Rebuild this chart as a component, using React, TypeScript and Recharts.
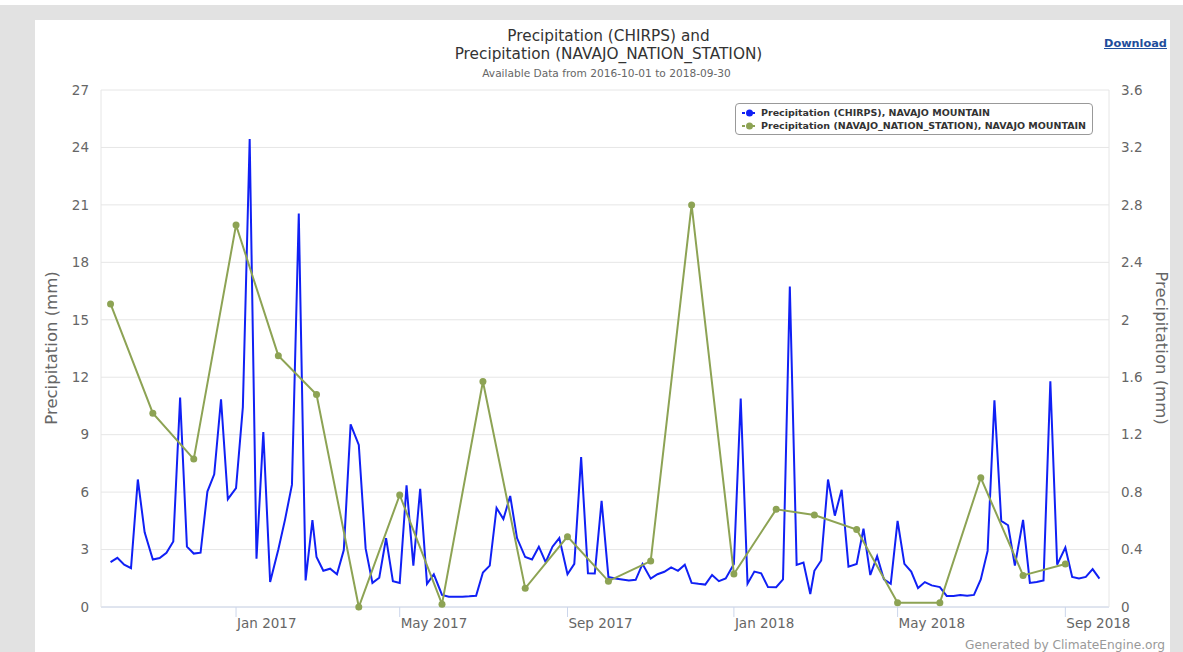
import React from 'react';
import { LineChart, Line, XAxis, YAxis, CartesianGrid } from 'recharts';

const FONT = "'DejaVu Sans', 'Lucida Grande', sans-serif";

// month starts, Oct 2016 .. Sep 2018
const months = [
  '2016-10', '2016-11', '2016-12', '2017-01', '2017-02', '2017-03',
  '2017-04', '2017-05', '2017-06', '2017-07', '2017-08', '2017-09',
  '2017-10', '2017-11', '2017-12', '2018-01', '2018-02', '2018-03',
  '2018-04', '2018-05', '2018-06', '2018-07', '2018-08', '2018-09',
];
const pentadDays = ['01', '06', '11', '16', '21', '26'];

// CHIRPS pentad precipitation (mm), six per month
const chirps = [
  2.34, 2.57, 2.21, 2.03, 6.66, 3.9,
  2.48, 2.56, 2.83, 3.42, 10.94, 3.15,
  2.79, 2.84, 6.03, 6.93, 10.85, 5.63,
  6.21, 10.44, 24.44, 2.52, 9.14, 1.31,
  3.0, 4.59, 6.39, 20.55, 1.39, 4.54,
  2.61, 1.89, 2.0, 1.71, 2.97, 9.54,
  8.46, 3.06, 1.26, 1.53, 3.6, 1.35,
  1.26, 6.35, 2.16, 6.17, 1.21, 1.71,
  0.63, 0.54, 0.54, 0.54, 0.56, 0.59,
  1.8, 2.16, 5.17, 4.59, 5.8, 3.6,
  2.61, 2.48, 3.15, 2.34, 3.15, 3.6,
  1.71, 2.25, 7.83, 1.76, 1.75, 5.54,
  1.57, 1.49, 1.44, 1.39, 1.42, 2.25,
  1.48, 1.71, 1.84, 2.07, 1.89, 2.21,
  1.26, 1.21, 1.17, 1.67, 1.35, 1.49,
  2.25, 10.89, 1.22, 1.85, 1.76, 1.04,
  1.03, 1.44, 16.74, 2.2, 2.32, 0.68,
  1.89, 2.43, 6.66, 4.77, 6.12, 2.11,
  2.25, 4.09, 1.67, 2.65, 1.44, 1.21,
  4.5, 2.25, 1.85, 0.99, 1.3, 1.13,
  1.04, 0.58, 0.58, 0.63, 0.59, 0.63,
  1.44, 2.93, 10.8, 4.5, 4.27, 2.16,
  4.55, 1.26, 1.31, 1.39, 11.79, 2.21,
  3.11, 1.57, 1.49, 1.57, 1.98, 1.48,
];

// station monthly precipitation (mm), right axis
const station = [
  2.11, 1.35, 1.03, 2.66, 1.75, 1.48,
  0.0, 0.78, 0.02, 1.57, 0.13, 0.49,
  0.18, 0.32, 2.8, 0.23, 0.68, 0.64,
  0.54, 0.03, 0.03, 0.9, 0.22, 0.3,
];

const seriesNames = [
  'Precipitation (CHIRPS), NAVAJO MOUNTAIN',
  'Precipitation (NAVAJO_NATION_STATION), NAVAJO MOUNTAIN',
];
const xTickDates = ['2017-01-01', '2017-05-01', '2017-09-01', '2018-01-01', '2018-05-01', '2018-09-01'];
const xTickLabels = ['Jan 2017', 'May 2017', 'Sep 2017', 'Jan 2018', 'May 2018', 'Sep 2018'];
const leftTicks = [0, 3, 6, 9, 12, 15, 18, 21, 24, 27];
const rightTicks = [0, 0.4, 0.8, 1.2, 1.6, 2, 2.4, 2.8, 3.2, 3.6];

const START = Date.parse('2016-10-01');
const dayOf = (iso: string) => (Date.parse(iso) - START) / 86400000;

const chirpsData = months.flatMap((m, mi) =>
  pentadDays.map((d, pi) => ({ day: dayOf(`${m}-${d}`), v: chirps[mi * 6 + pi] }))
);
const stationData = months.map((m, i) => ({ day: dayOf(`${m}-01`), v: station[i] }));
const xTicks = xTickDates.map(dayOf);

const BLUE = '#1020f5';
const GREEN = '#8da354';

const XTick = (props: any) => {
  const { x, y, payload } = props;
  const i = xTicks.indexOf(payload.value);
  return (
    <text x={x + 1} y={y + 9} textAnchor="start" fill="#666" fontSize={13.5} fontFamily={FONT}>
      {xTickLabels[i]}
    </text>
  );
};

const LegendBox = () => {
  const colors = [BLUE, GREEN];
  return (
    <div
      style={{
        position: 'absolute',
        left: 700,
        top: 83,
        width: 346,
        border: '1px solid #999',
        borderRadius: 4,
        background: '#fff',
        padding: '2px 5px 2px 5px',
      }}
    >
      {seriesNames.map((label, i) => (
        <div key={label} style={{ display: 'flex', alignItems: 'center', height: 13 }}>
          <svg width={18} height={10} style={{ marginRight: 2, flexShrink: 0 }}>
            <line x1={1} y1={5} x2={16} y2={5} stroke={colors[i]} strokeWidth={2} strokeDasharray="3 2" />
            <circle cx={8.5} cy={5} r={3.5} fill={colors[i]} />
          </svg>
          <span style={{ fontFamily: FONT, fontWeight: 'bold', fontSize: 9.5, color: '#333', whiteSpace: 'nowrap' }}>
            {label}
          </span>
        </div>
      ))}
    </div>
  );
};

export default function App() {
  return (
    <div style={{ position: 'absolute', left: 0, top: 0, width: 1183, height: 652, background: '#fff', overflow: 'hidden' }}>
      <div style={{ position: 'absolute', left: 0, top: 5, width: 1183, height: 647, background: '#e2e2e2' }} />
      <div style={{ position: 'absolute', left: 35, top: 20, width: 1135, height: 632, background: '#fff' }}>
        <LineChart width={1135} height={632} margin={{ top: 70, right: 0, bottom: 0, left: 0 }}>
          <CartesianGrid yAxisId="left" vertical={false} stroke="#e6e6e6" />
          <XAxis
            dataKey="day"
            type="number"
            domain={[-7, 732]}
            ticks={xTicks}
            height={45}
            tick={<XTick />}
            tickSize={10}
            tickLine={{ stroke: '#ccd6eb' }}
            axisLine={{ stroke: '#ccd6eb' }}
            allowDataOverflow
          />
          <YAxis
            yAxisId="left"
            width={66}
            domain={[0, 27]}
            ticks={leftTicks}
            tickSize={0}
            tickMargin={12}
            tickLine={false}
            axisLine={{ stroke: '#e6e6e6' }}
            tick={{ fill: '#666', fontSize: 13.5, fontFamily: FONT }}
          />
          <YAxis
            yAxisId="right"
            orientation="right"
            width={61}
            domain={[0, 3.6]}
            ticks={rightTicks}
            tickSize={0}
            tickMargin={12}
            tickLine={false}
            axisLine={{ stroke: '#e6e6e6' }}
            tick={{ fill: '#666', fontSize: 13.5, fontFamily: FONT }}
          />
          <Line
            yAxisId="left"
            data={chirpsData}
            dataKey="v"
            name={seriesNames[0]}
            type="linear"
            stroke={BLUE}
            strokeWidth={2}
            dot={false}
            isAnimationActive={false}
          />
          <Line
            yAxisId="right"
            data={stationData}
            dataKey="v"
            name={seriesNames[1]}
            type="linear"
            stroke={GREEN}
            strokeWidth={2}
            dot={{ r: 3.5, fill: GREEN, stroke: GREEN, strokeWidth: 0 }}
            isAnimationActive={false}
          />
        </LineChart>

        <LegendBox />

        <div style={{ position: 'absolute', left: 6, width: 1135, top: 7, textAlign: 'center', fontFamily: FONT, fontSize: 15.3, color: '#333', lineHeight: '18px' }}>
          Precipitation (CHIRPS) and
          <br />
          Precipitation (NAVAJO_NATION_STATION)
        </div>
        <div style={{ position: 'absolute', left: 4, width: 1135, top: 47, textAlign: 'center', fontFamily: FONT, fontSize: 10.6, color: '#666' }}>
          Available Data from 2016-10-01 to 2018-09-30
        </div>
        <div style={{ position: 'absolute', left: 1069, top: 17, fontFamily: FONT, fontSize: 11.3, fontWeight: 'bold', color: '#1f4e9c', textDecoration: 'underline' }}>
          Download
        </div>
        <div
          style={{
            position: 'absolute', left: 16, top: 328, fontFamily: FONT, fontSize: 16.5, color: '#666',
            transform: 'translate(-50%, -50%) rotate(-90deg)', whiteSpace: 'nowrap',
          }}
        >
          Precipitation (mm)
        </div>
        <div
          style={{
            position: 'absolute', left: 1126, top: 328, fontFamily: FONT, fontSize: 16.5, color: '#666',
            transform: 'translate(-50%, -50%) rotate(90deg)', whiteSpace: 'nowrap',
          }}
        >
          Precipitation (mm)
        </div>
        <div style={{ position: 'absolute', right: 5, top: 618, fontFamily: FONT, fontSize: 12.2, color: '#999' }}>
          Generated by ClimateEngine.org
        </div>
      </div>
    </div>
  );
}
